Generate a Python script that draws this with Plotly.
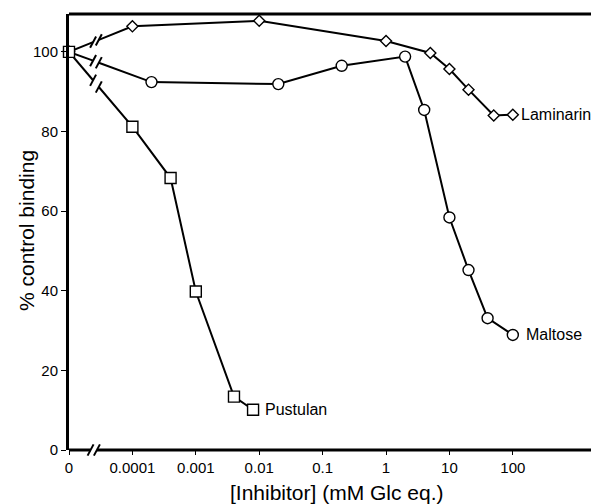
import numpy as np
import plotly.graph_objects as go

# ---- data ----
lam_x = [0, 0.0001, 0.01, 1, 5, 10, 20, 50, 100]
lam_y = [100, 106.4, 107.8, 102.7, 99.7, 95.7, 90.5, 84.0, 84.2]
mal_x = [0, 0.0002, 0.02, 0.2, 2, 4, 10, 20, 40, 100]
mal_y = [100, 92.4, 91.9, 96.5, 98.8, 85.4, 58.4, 45.2, 33.1, 28.9]
pus_x = [0, 0.0001, 0.0004, 0.001, 0.004, 0.008]
pus_y = [100, 81.2, 68.3, 39.8, 13.4, 10.1]
x_tick_vals = [0, 0.0001, 0.001, 0.01, 0.1, 1, 10, 100]
x_tick_text = ["0", "0.0001", "0.001", "0.01", "0.1", "1", "10", "100"]
y_tick_vals = [0, 20, 40, 60, 80, 100]

ZERO_U = -5.0            # log-axis position used for the "0" point (axis break)
SER_BRK = (-4.62, -4.53)  # break on the series lines
AX_BRK = (-4.66, -4.56)   # break on the x-axis line
FONT = "Arial, Liberation Sans, Helvetica, sans-serif"


def to_u(xs):
    return [ZERO_U if v == 0 else float(np.log10(v)) for v in xs]


def split_line(xs, ys):
    u = to_u(xs)

    def y_at(ub):
        return ys[0] + (ys[1] - ys[0]) * (ub - u[0]) / (u[1] - u[0])

    lx = [u[0], SER_BRK[0], None, SER_BRK[1]] + u[1:]
    ly = [ys[0], y_at(SER_BRK[0]), None, y_at(SER_BRK[1])] + ys[1:]
    sx = list(SER_BRK)
    sy = [y_at(b) for b in SER_BRK]
    return u, lx, ly, sx, sy


fig = go.Figure()

series = [
    ("Laminarin", lam_x, lam_y, "diamond", 8.5, 6),
    ("Maltose", mal_x, mal_y, "circle", 11, 11),
    ("Pustulan", pus_x, pus_y, "square", 11, 10),
]

annotations = []
for name, xs, ys, sym, size, shift in series:
    u, lx, ly, sx, sy = split_line(xs, ys)
    fig.add_trace(go.Scatter(x=lx, y=ly, mode="lines",
                             line=dict(color="black", width=2),
                             cliponaxis=False, showlegend=False, hoverinfo="skip"))
    fig.add_trace(go.Scatter(x=sx, y=sy, mode="markers",
                             marker=dict(symbol="line-ne", size=9, angle=-17,
                                         line=dict(color="black", width=2)),
                             cliponaxis=False, showlegend=False, hoverinfo="skip"))
    fig.add_trace(go.Scatter(x=u, y=ys, mode="markers", name=name,
                             marker=dict(symbol=sym, size=size, color="white",
                                         line=dict(color="black", width=1.4)),
                             cliponaxis=False, showlegend=False))
    annotations.append(dict(x=u[-1], y=ys[-1], xref="x", yref="y", text=name,
                            showarrow=False, xanchor="left", yanchor="middle",
                            xshift=shift, font=dict(family=FONT, size=16, color="black")))

# x-axis break slashes
fig.add_trace(go.Scatter(x=list(AX_BRK), y=[0, 0], mode="markers",
                         marker=dict(symbol="line-ne", size=9, angle=-17,
                                     line=dict(color="black", width=2)),
                         cliponaxis=False, showlegend=False, hoverinfo="skip"))

shapes = [
    dict(type="line", xref="x", yref="paper", x0=ZERO_U, x1=AX_BRK[0], y0=0, y1=0,
         line=dict(color="black", width=3), layer="above"),
    dict(type="line", xref="x", yref="paper", x0=AX_BRK[1], x1=3.3, y0=0, y1=0,
         line=dict(color="black", width=3), layer="above"),
    dict(type="line", xref="paper", yref="paper", x0=0, x1=1, y0=1, y1=1,
         line=dict(color="black", width=3), layer="above"),
]

annotations.append(dict(x=337, y=492, text="[Inhibitor] (mM Glc eq.)",
                        showarrow=False, font=dict(family=FONT, size=21, color="black")))
annotations.append(dict(x=27, y=231, text="% control binding", textangle=-90,
                        showarrow=False, font=dict(family=FONT, size=21, color="black")))

W, H = 591, 504
L, R, T, B = 69, 0, 14, 54
# convert pixel positions for titles to paper coords
for a in annotations[-2:]:
    a["xref"] = "paper"
    a["yref"] = "paper"
    a["x"] = (a["x"] - L) / (W - L - R)
    a["y"] = (H - B - a["y"]) / (H - T - B)
    a["xanchor"] = "center"
    a["yanchor"] = "middle"

fig.update_layout(
    width=W, height=H,
    margin=dict(l=L, r=R, t=T, b=B, pad=0),
    paper_bgcolor="white", plot_bgcolor="white",
    font=dict(family=FONT, size=15, color="black"),
    xaxis=dict(range=[ZERO_U, 3.233], tickmode="array", tickvals=to_u(x_tick_vals),
               ticktext=x_tick_text, ticks="outside", ticklen=4, tickwidth=1,
               tickcolor="black", showline=False, showgrid=False, zeroline=False,
               tickfont=dict(family=FONT, size=15, color="black")),
    yaxis=dict(range=[0, 109.5], tickmode="array", tickvals=y_tick_vals,
               ticks="outside", ticklen=5, tickwidth=1, tickcolor="black",
               showline=True, linewidth=3, linecolor="black",
               showgrid=False, zeroline=False,
               tickfont=dict(family=FONT, size=15, color="black")),
    shapes=shapes,
    annotations=annotations,
)

fig.write_html("out.html")
